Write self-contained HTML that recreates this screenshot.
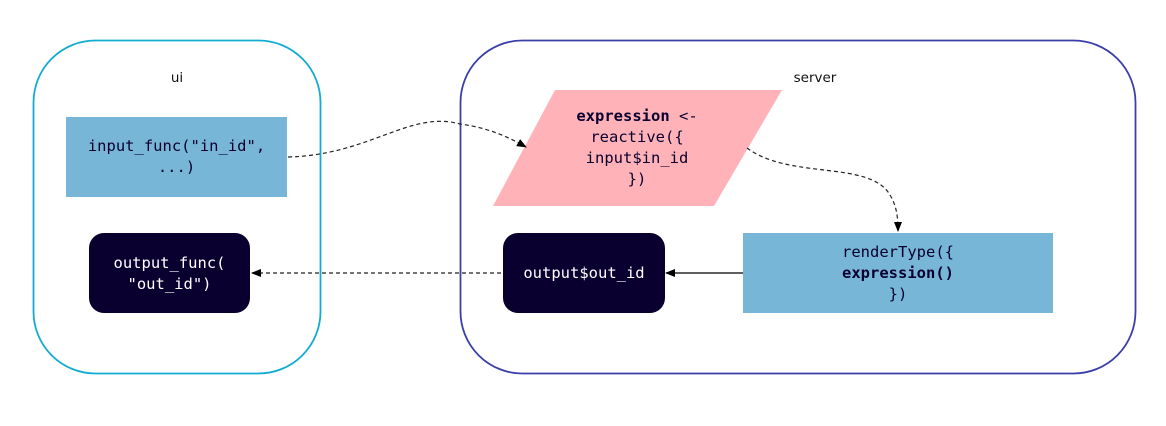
<!DOCTYPE html>
<html><head><meta charset="utf-8"><style>
html,body{margin:0;padding:0;background:#fff;}
svg text{font-family:"DejaVu Sans Mono","Liberation Mono",monospace;font-size:15.5px;fill:#0a0030;}
.lbl{font-family:"DejaVu Sans","Liberation Sans",sans-serif;font-size:13.5px;fill:#111;}
.w{fill:#fff;}
</style></head><body>
<svg width="1166" height="421" viewBox="0 0 1166 421" xmlns="http://www.w3.org/2000/svg">
<defs>
<marker id="ah" markerWidth="10" markerHeight="8" refX="9" refY="4" orient="auto" markerUnits="userSpaceOnUse">
<path d="M0,0 L10,4 L0,8 z" fill="#000"/></marker>
</defs>
<rect x="33.5" y="40.5" width="287" height="333" rx="62" fill="none" stroke="#11acd0" stroke-width="1.8"/>
<rect x="460.5" y="40.5" width="675" height="333" rx="62" fill="none" stroke="#3a3ea8" stroke-width="1.8"/>
<text class="lbl" x="177" y="82" text-anchor="middle">ui</text>
<text class="lbl" x="815" y="82" text-anchor="middle">server</text>

<rect x="66" y="117" width="221" height="80" fill="#77b6d7"/>
<text x="176.5" y="151" text-anchor="middle">input_func("in_id",</text>
<text x="176.5" y="172" text-anchor="middle">...)</text>

<rect x="89" y="233" width="161" height="80" rx="15" fill="#0a0030"/>
<text class="w" x="169.5" y="268" text-anchor="middle">output_func(</text>
<text class="w" x="169.5" y="289" text-anchor="middle">"out_id")</text>

<polygon points="555,90 782,90 714,206 493,206" fill="#ffb3b8"/>
<text x="637" y="121" text-anchor="middle"><tspan font-weight="bold">expression</tspan> &lt;-</text>
<text x="637" y="142" text-anchor="middle">reactive({</text>
<text x="637" y="163" text-anchor="middle">input$in_id</text>
<text x="637" y="184" text-anchor="middle">})</text>

<rect x="503" y="233" width="162" height="80" rx="15" fill="#0a0030"/>
<text class="w" x="584" y="278" text-anchor="middle">output$out_id</text>

<rect x="743" y="233" width="310" height="80" fill="#77b6d7"/>
<text x="898" y="257" text-anchor="middle">renderType({</text>
<text x="898" y="278" text-anchor="middle" font-weight="bold">expression()</text>
<text x="898" y="299" text-anchor="middle">})</text>

<path d="M288,157 C370,155 410,110 460,124 C490,128 510,138 526,147" fill="none" stroke="#222" stroke-width="1.2" stroke-dasharray="4,3" marker-end="url(#ah)"/>
<path d="M747,148 C790,180 870,160 890,195 C896,205 898,215 898,231" fill="none" stroke="#222" stroke-width="1.2" stroke-dasharray="4,3" marker-end="url(#ah)"/>
<path d="M743,273 L666,273" fill="none" stroke="#000" stroke-width="1.2" marker-end="url(#ah)"/>
<path d="M501,273 L252,273" fill="none" stroke="#222" stroke-width="1.2" stroke-dasharray="4,3" marker-end="url(#ah)"/>
</svg>
</body></html>
